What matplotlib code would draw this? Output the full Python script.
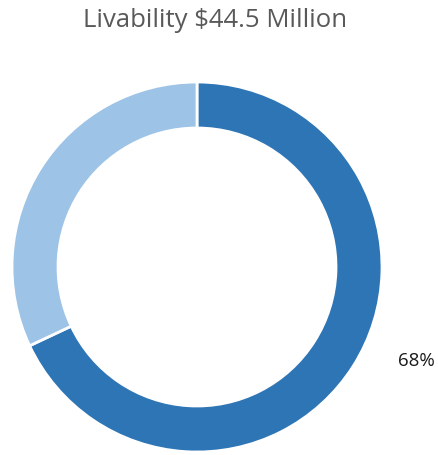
import matplotlib.pyplot as plt

# data
categories = ['Livability', 'Other']
shares = [68, 32]
colors = ['#2E75B6', '#9DC3E6']
title = 'Livability $44.5 Million'

W, H = 439, 455
fig = plt.figure(figsize=(W / 100, H / 100), dpi=100)
ax = fig.add_axes([0, 0, 1, 1])
ax.set_xlim(0, W)
ax.set_ylim(0, H)
ax.set_aspect('equal')
ax.axis('off')

# donut, drawn in pixel units
ax.pie(shares, colors=colors, startangle=90, counterclock=False,
       center=(197, H - 267), radius=185,
       wedgeprops=dict(width=46, edgecolor='white', linewidth=2))
ax.set_xlim(0, W)
ax.set_ylim(0, H)

ax.text(416, H - 361, f'{shares[0]}%', ha='center', va='center',
        fontsize=13.5, color='#1a1a1a', family='Open Sans')
ax.text(215, H - 20, title.replace('$', r'\$'), ha='center', va='center',
        fontsize=18.5, color='#595959', family='Open Sans')

fig.savefig('out.png', dpi=100)
